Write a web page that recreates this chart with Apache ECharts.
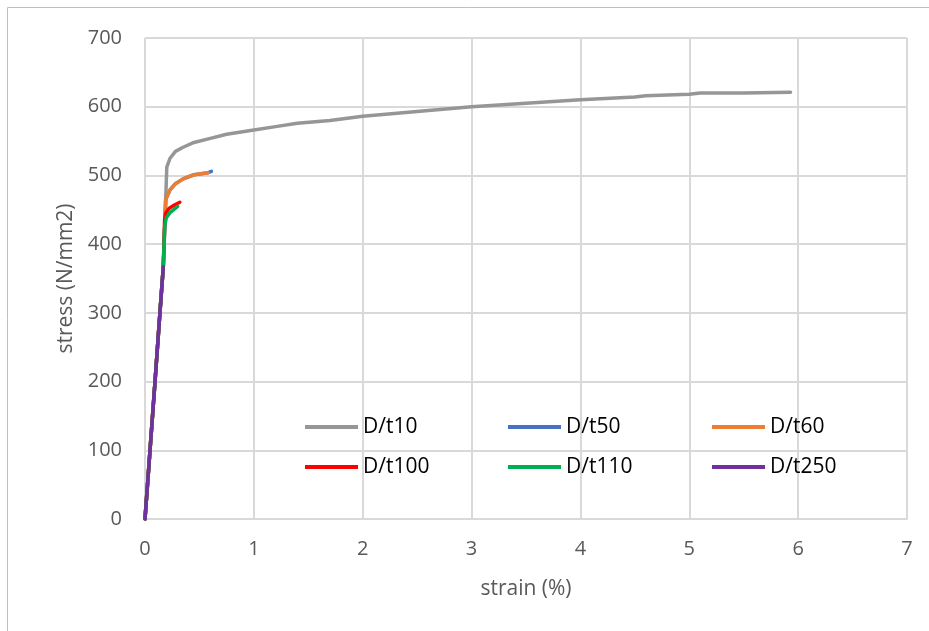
<!DOCTYPE html>
<html>
<head>
<meta charset="utf-8">
<script src="https://cdn.jsdelivr.net/npm/echarts@6/dist/echarts.min.js"></script>
<style>
  html, body { margin: 0; padding: 0; background: #fff; }
  #chart { width: 929px; height: 631px; }
</style>
</head>
<body>
<div id="chart"></div>
<script>
// Stress–strain curves for tubes of different D/t ratios
const seriesNames = ['D/t10', 'D/t50', 'D/t60', 'D/t100', 'D/t110', 'D/t250'];

// [strain (%), stress (N/mm2)]
const dt10 = [[0,0],[0.046,100],[0.092,200],[0.137,300],[0.168,367],[0.185,440],[0.2,512],[0.23,525],[0.28,535],[0.35,541],[0.45,548],[0.6,554],[0.75,560],[1.0,566],[1.2,571],[1.4,576],[1.7,580],[2.0,586],[2.5,593],[3.0,600],[3.5,605],[4.0,610],[4.5,614],[4.6,616],[5.0,618],[5.1,620],[5.5,620],[5.93,621]];
const dt50 = [[0,0],[0.046,100],[0.092,200],[0.137,300],[0.168,367],[0.185,440],[0.19,465],[0.23,479],[0.28,488],[0.35,495],[0.45,501],[0.58,504],[0.61,506]];
const dt60 = [[0,0],[0.046,100],[0.092,200],[0.137,300],[0.168,367],[0.185,440],[0.19,465],[0.23,479],[0.28,488],[0.35,495],[0.45,501],[0.58,504]];
const dt100 = [[0,0],[0.046,100],[0.092,200],[0.137,300],[0.168,367],[0.18,435],[0.19,445],[0.22,452],[0.27,457],[0.32,461]];
const dt110 = [[0,0],[0.046,100],[0.092,200],[0.137,300],[0.168,367],[0.18,425],[0.195,438],[0.23,446],[0.27,451],[0.3,455]];
const dt250 = [[0,0],[0.046,100],[0.092,200],[0.137,300],[0.168,367]];

const seriesData = [dt10, dt50, dt60, dt100, dt110, dt250];
const seriesColors = ['#969696', '#4472C4', '#ED7D31', '#FF0000', '#00B050', '#7030A0'];

const xTicks = { min: 0, max: 7, interval: 1 };
const yTicks = { min: 0, max: 700, interval: 100 };

const font = '"Open Sans", sans-serif';
const chart = echarts.init(document.getElementById('chart'));

// legend laid out as a 3 x 2 table inside the plot area
const legendCols = [305, 508, 712];
const legendRows = [412, 452];
const legends = seriesNames.map((name, i) => ({
  data: [name],
  left: legendCols[i % 3],
  top: legendRows[Math.floor(i / 3)],
  icon: 'rect',
  itemWidth: 53,
  itemHeight: 4,
  itemGap: 0,
  itemTextGap: 6,
  padding: 0,
  itemStyle: { borderWidth: 0 },
  textStyle: { fontFamily: font, fontSize: 21, color: '#000', lineHeight: 30 }
}));

chart.setOption({
  animation: false,
  backgroundColor: '#fff',
  graphic: [{
    type: 'rect',
    shape: { x: 7.5, y: 7.5, width: 960, height: 660 },
    style: { fill: 'none', stroke: '#bfbfbf', lineWidth: 1 },
    silent: true
  }],
  grid: { left: 145, right: 22, top: 38, bottom: 112, containLabel: false },
  legend: legends,
  xAxis: {
    type: 'value',
    min: xTicks.min, max: xTicks.max, interval: xTicks.interval,
    name: 'strain (%)',
    nameLocation: 'middle',
    nameGap: 60,
    nameTextStyle: { fontFamily: font, fontSize: 21, color: '#595959' },
    axisLine: { show: true, lineStyle: { color: '#d9d9d9', width: 2 } },
    axisTick: { show: false },
    axisLabel: { fontFamily: font, fontSize: 20, color: '#595959', margin: 20 },
    splitLine: { show: true, lineStyle: { color: '#d9d9d9', width: 2 } }
  },
  yAxis: {
    type: 'value',
    min: yTicks.min, max: yTicks.max, interval: yTicks.interval,
    name: 'stress (N/mm2)',
    nameLocation: 'middle',
    nameRotate: 90,
    nameGap: 63,
    nameTextStyle: { fontFamily: font, fontSize: 21, color: '#595959' },
    axisLine: { show: false },
    axisTick: { show: false },
    axisLabel: { fontFamily: font, fontSize: 20, color: '#595959', margin: 23 },
    splitLine: { show: true, lineStyle: { color: '#d9d9d9', width: 2 } }
  },
  series: seriesNames.map((name, i) => ({
    name: name,
    type: 'line',
    data: seriesData[i],
    showSymbol: false,
    symbol: 'none',
    color: seriesColors[i],
    lineStyle: { width: 3.5, color: seriesColors[i], cap: 'round', join: 'round' },
    z: 2 + i
  }))
});
</script>
</body>
</html>
